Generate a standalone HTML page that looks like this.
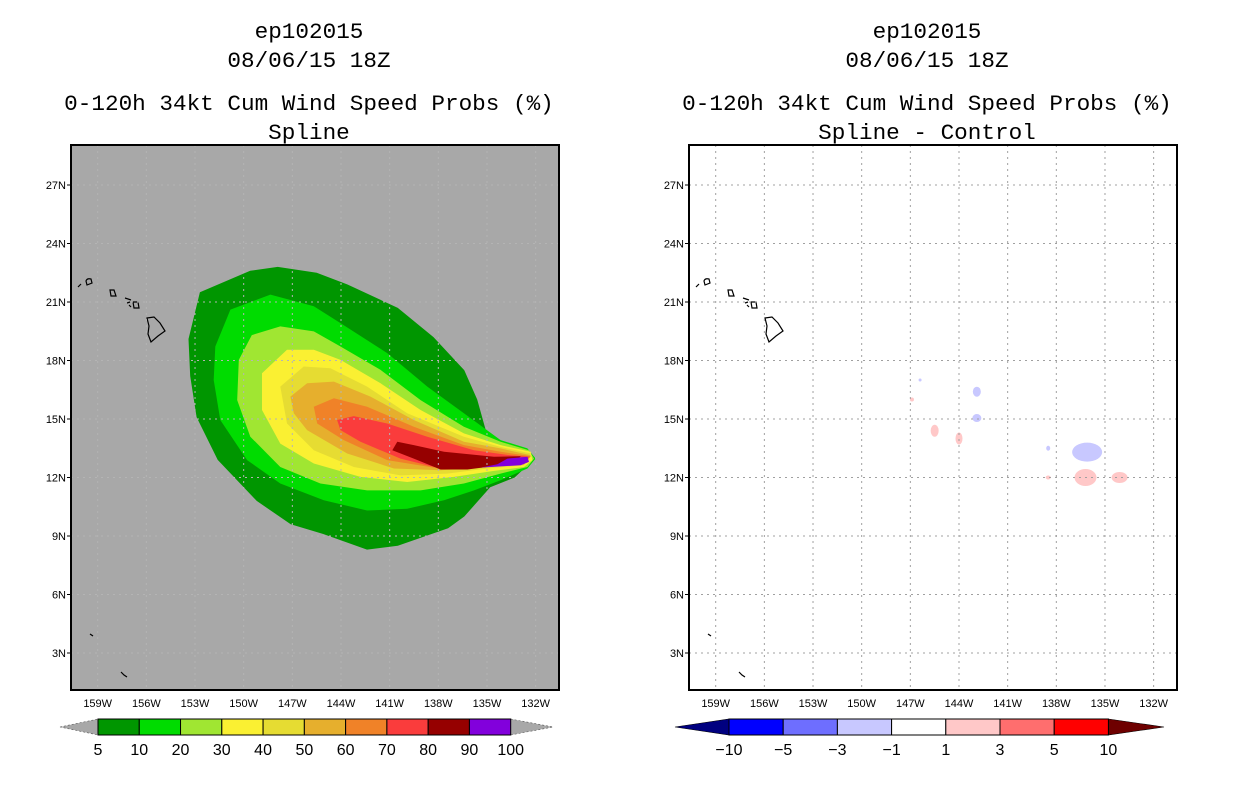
<!DOCTYPE html>
<html><head><meta charset="utf-8"><style>
html,body{margin:0;padding:0;background:#fff;}
svg{display:block;}
text{font-family:"Liberation Sans",sans-serif;}
text.ttl{font-family:"Liberation Mono",monospace;}
</style></head>
<body>
<svg id="fig" width="1236" height="800" viewBox="0 0 1236 800" xmlns="http://www.w3.org/2000/svg">
<defs>
<clipPath id="clipL"><rect x="71" y="145" width="488" height="545"/></clipPath>
<clipPath id="clipR"><rect x="689" y="145" width="488" height="545"/></clipPath>
</defs>
<g id="left"></g>
<g id="right"></g>
</svg>
<script>
const lonTicks=[159,156,153,150,147,144,141,138,135,132];
const latTicks=[27,24,21,18,15,12,9,6,3];
const probLevels=[5,10,20,30,40,50,60,70,80,90,100];
const probColors=["#009600","#00dc00","#a0e632","#faf032","#e6dc32","#e6af2d","#f08228","#fa3c3c","#960000","#8200dc"];
const diffLevels=[-10,-5,-3,-1,1,3,5,10];
const diffColors=["#000080","#0000ff","#6e6eff","#c8c8ff","#ffffff","#ffc8c8","#ff6e6e","#ff0000","#6e0000"];
const c5=[[153.4,19.1],[152.7,21.5],[149.6,22.6],[147.9,22.8],[145.5,22.5],[143.6,21.9],[140.5,20.7],[138.3,19.2],[136.4,17.5],[135.6,16.0],[135.0,14.2],[133.8,13.6],[132.0,13.0],[133.3,12.0],[134.8,11.5],[136.4,10.0],[137.4,9.4],[140.5,8.5],[142.4,8.3],[145.1,9.1],[147.1,9.6],[149.2,10.8],[151.6,12.9],[152.9,15.1],[153.3,17.2]];
const c10=[[151.75,18.72],[150.82,20.61],[148.35,21.38],[145.68,20.78],[144.03,19.92],[141.15,18.38],[138.68,16.66],[136.42,15.29],[134.16,13.92],[132.51,13.49],[132.0,12.97],[132.51,12.46],[134.16,11.86],[135.8,11.34],[137.65,10.83],[139.92,10.4],[142.39,10.31],[145.06,10.83],[147.74,11.69],[149.79,12.89],[151.44,14.95],[151.85,17.0]];
const c20=[[150.3,18.03],[149.5,19.3],[147.74,19.75],[145.68,19.49],[144.03,18.72],[141.56,17.52],[139.09,15.97],[136.42,14.6],[134.16,13.83],[132.41,13.4],[132.1,12.97],[132.51,12.54],[134.16,12.2],[136.42,11.69],[139.09,11.34],[142.39,11.34],[145.27,11.69],[147.74,12.54],[149.59,14.09],[150.4,15.97]];
const c30=[[148.87,17.35],[147.33,18.55],[145.68,18.55],[144.03,18.03],[141.56,16.83],[139.09,15.46],[136.42,14.26],[134.16,13.66],[132.3,13.32],[132.2,12.89],[132.72,12.54],[134.57,12.34],[137.04,12.03],[139.92,11.77],[142.8,12.03],[145.68,12.72],[147.74,13.74],[148.87,15.46]];
const c40=[[147.74,16.66],[146.3,17.69],[144.65,17.6],[142.39,16.66],[139.92,15.29],[136.42,14.09],[134.16,13.57],[132.3,13.23],[132.72,12.63],[134.98,12.46],[137.45,12.2],[140.33,12.11],[143.21,12.54],[145.68,13.4],[147.33,14.77]];
const c50=[[147.12,16.15],[146.09,16.83],[144.44,16.92],[142.18,16.15],[139.51,14.95],[136.42,13.83],[134.16,13.49],[132.3,13.14],[132.72,12.68],[135.39,12.51],[137.86,12.37],[140.74,12.46],[143.62,13.23],[146.09,14.43],[146.91,15.29]];
const c60=[[145.68,15.63],[144.44,16.06],[142.39,15.63],[139.51,14.6],[136.42,13.66],[134.16,13.32],[132.3,13.09],[132.72,12.68],[135.8,12.51],[138.27,12.51],[141.15,12.89],[143.83,13.92],[145.47,14.77]];
const c70=[[144.24,14.95],[143.21,15.15],[141.15,14.77],[138.68,14.09],[135.8,13.4],[133.54,13.14],[132.41,13.06],[132.72,12.72],[135.39,12.54],[137.86,12.46],[140.33,12.97],[142.8,13.83],[144.03,14.43]];
const c80=[[140.53,13.83],[139.51,13.66],[137.65,13.32],[134.57,13.06],[132.92,13.09],[133.33,12.72],[136.21,12.41],[137.86,12.41],[139.51,12.97],[140.84,13.4]];
const c90=[[133.74,12.97],[132.51,13.06],[132.41,12.8],[132.92,12.63],[135.39,12.51],[134.36,12.68]];
const contours=[c5,c10,c20,c30,c40,c50,c60,c70,c80,c90];
const diffLon=[145.5,144.0,142.9,142.9,136.1,136.2,134.1,138.5,138.5,146.9,146.4];
const diffLat=[14.4,14.0,16.4,15.05,13.3,12.0,12.0,12.0,13.5,16.0,17.0];
const diffVal=[2,2,-2,-2,-2,2,2,2,-2,2,-2];
const diffRx=[4,3.5,4,4.5,15,11,8,2.5,2,2,1.5];
const diffRy=[6,6,5,4,9.5,8.5,5.5,2,2.5,2,1.5];

const NS="http://www.w3.org/2000/svg";
function mk(tag,attrs,parent){const e=document.createElementNS(NS,tag);for(const k in attrs)e.setAttribute(k,attrs[k]);parent.appendChild(e);return e;}
function X(lon,off){return 97.7+(159-lon)*16.22+off;}
function Y(lat){return 185+(27-lat)*19.5;}

function drawPanel(g,off,isLeft){
  const L=71+off,T=145,W=488,H=545;
  const bg=mk('rect',{x:L,y:T,width:W,height:H,fill:isLeft?'#a8a8a8':'#ffffff'},g);
  
  
  const cg=mk('g',{'clip-path':isLeft?'url(#clipL)':'url(#clipR)'},g);
  if(isLeft){
    contours.forEach((c,i)=>{
      const d=c.map((p,j)=>(j?'L':'M')+X(p[0],off).toFixed(1)+' '+Y(p[1]).toFixed(1)).join(' ')+'Z';
      const p=mk('path',{d:d,fill:probColors[i]},cg);
      
      
    });
  } else {
    diffVal.forEach((v,i)=>{
      let k=0;while(k<diffLevels.length&&v>diffLevels[k])k++;
      const e=mk('ellipse',{cx:X(diffLon[i],off),cy:Y(diffLat[i]),rx:diffRx[i],ry:diffRy[i],fill:diffColors[k]},cg);
      
      
    });
  }
  const isl=mk('g',{fill:'none',stroke:'#000','stroke-width':1.2},cg);
  
  
  const o=off;
  mk('path',{d:`M${78+o} 287 L${81+o} 284`},isl);
  mk('path',{d:`M${86+o} 281 Q${87+o} 278 ${91+o} 279 L${92+o} 283 L${87+o} 285Z`},isl);
  mk('path',{d:`M${110+o} 290 L${114+o} 290 L${116+o} 296 L${111+o} 296Z`},isl);
  mk('path',{d:`M${125+o} 298 L${131+o} 300 M${127+o} 303 L${130+o} 302 M${133+o} 302 L${138+o} 302 L${139+o} 308 L${134+o} 308Z M${129+o} 305 L${131+o} 307`},isl);
  mk('path',{d:`M${147+o} 318 L${154+o} 317 L${160+o} 323 L${165+o} 331 L${158+o} 336 L${151+o} 342 L${148+o} 334 L${149+o} 326Z`},isl);
  mk('path',{d:`M${90+o} 634 L${93+o} 636`},isl);
  mk('path',{d:`M${121+o} 672 L${124+o} 675 L${127+o} 677`},isl);
  const gr=mk('g',{stroke:isLeft?'#b4b4b4':'#a0a0a0','stroke-width':1,'stroke-dasharray':'2,4'},g);
  
  
  lonTicks.forEach(l=>mk('line',{x1:X(l,off),x2:X(l,off),y1:T,y2:T+H},gr));
  latTicks.forEach(l=>mk('line',{x1:L,x2:L+W,y1:Y(l),y2:Y(l)},gr));
  const fr=mk('rect',{x:L,y:T,width:W,height:H,fill:'none',stroke:'#000','stroke-width':2},g);
  
  
  lonTicks.forEach(l=>{
    const t=mk('text',{x:X(l,off),y:707,'font-size':11,'text-anchor':'middle',fill:'#000'},g);
    t.textContent=l+'W';
    
    
  });
  latTicks.forEach(l=>{
    const t=mk('text',{x:L-5,y:Y(l)+4,'font-size':11,'text-anchor':'end',fill:'#000'},g);
    t.textContent=l+'N';
    
    
    mk('line',{x1:L-4,x2:L,y1:Y(l),y2:Y(l),stroke:'#000'},g);
  });
  const cx=309+off;
  const titles=[['ep102015',38],['08/06/15 18Z',67],['0-120h 34kt Cum Wind Speed Probs (%)',110],[isLeft?'Spline':'Spline - Control',139]];
  titles.forEach(([s,y],i)=>{
    const t=mk('text',{x:cx,y:y,'font-size':22,'text-anchor':'middle',fill:'#000','class':'ttl',textLength:(s.length*13.6).toFixed(1),lengthAdjust:'spacingAndGlyphs'},g);
    t.textContent=s;
    
    
  });
}

function drawLeftBar(g){
  const y0=719,y1=735,x0=98,bw=41.27;
  const lt=mk('polygon',{points:`60,727 ${x0},${y0} ${x0},${y1}`,fill:'#a8a8a8',stroke:'#555','stroke-width':0.6,'stroke-dasharray':'2,2'},g);
  
  
  const n=probColors.length;
  const rt=mk('polygon',{points:`${x0+n*bw},${y0} 553,727 ${x0+n*bw},${y1}`,fill:'#a8a8a8',stroke:'#555','stroke-width':0.6,'stroke-dasharray':'2,2'},g);
  
  
  probColors.forEach((c,i)=>{
    const r=mk('rect',{x:x0+i*bw,y:y0,width:bw,height:y1-y0,fill:c,stroke:'#000','stroke-width':1},g);
    
    
  });
  probLevels.forEach((v,i)=>{
    const t=mk('text',{x:x0+i*bw,y:755,'font-size':16,'text-anchor':'middle',fill:'#000'},g);
    t.textContent=v;
    
    
  });
}
function drawRightBar(g){
  const y0=719,y1=735,x0=729,bw=54.2;
  const n=diffLevels.length-1;
  const lt=mk('polygon',{points:`675,727 ${x0},${y0} ${x0},${y1}`,fill:diffColors[0],stroke:'#000','stroke-width':0.6},g);
  
  
  const rt=mk('polygon',{points:`${x0+n*bw},${y0} 1164,727 ${x0+n*bw},${y1}`,fill:diffColors[diffColors.length-1],stroke:'#000','stroke-width':0.6},g);
  
  
  for(let i=0;i<n;i++){
    const r=mk('rect',{x:x0+i*bw,y:y0,width:bw,height:y1-y0,fill:diffColors[i+1],stroke:'#000','stroke-width':1},g);
    
    
  }
  diffLevels.forEach((v,i)=>{
    const t=mk('text',{x:x0+i*bw,y:755,'font-size':16,'text-anchor':'middle',fill:'#000'},g);
    t.textContent=v<0?'\u2212'+(-v):String(v);
    
    
  });
}
const gl=document.getElementById('left'),gr=document.getElementById('right');
drawPanel(gl,0,true);drawPanel(gr,618,false);
const cbl=mk('g',{},gl);


drawLeftBar(cbl);
const cbr=mk('g',{},gr);


drawRightBar(cbr);
</script>
</body></html>
